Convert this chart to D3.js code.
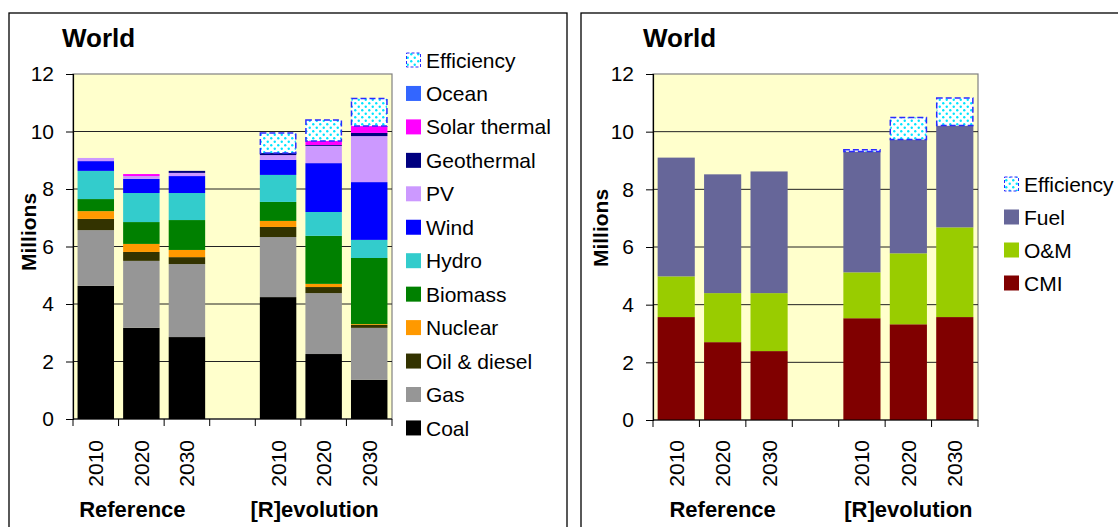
<!DOCTYPE html>
<html><head><meta charset="utf-8">
<script src="https://cdn.jsdelivr.net/npm/d3@7"></script>
<style>
html,body{margin:0;padding:0;background:#fff;}
text{font-family:"Liberation Sans",Arial,sans-serif;}
</style></head>
<body><svg id="c" width="1118" height="527"></svg>
<script>
// ---- data ----
const slots = ["Ref2010","Ref2020","Ref2030","gap","Rev2010","Rev2020","Rev2030"];
const yearLabels = ["2010","2020","2030","","2010","2020","2030"];
const groups = ["Reference","[R]evolution"];
const yTicks = [0,2,4,6,8,10,12];

// left chart (bottom to top)
const leftSeries = ["Coal","Gas","Oil & diesel","Nuclear","Biomass","Hydro","Wind","PV","Geothermal","Solar thermal","Ocean","Efficiency"];
const coal       = [4.63,3.17,2.85,null,4.24,2.26,1.36];
const gas        = [1.94,2.33,2.54,null,2.09,2.12,1.81];
const oil        = [0.39,0.31,0.24,null,0.35,0.21,0.10];
const nuclear    = [0.27,0.28,0.25,null,0.21,0.11,0.03];
const biomass    = [0.42,0.76,1.04,null,0.66,1.67,2.30];
const hydro      = [0.98,1.01,0.94,null,0.94,0.83,0.63];
const wind       = [0.34,0.49,0.59,null,0.52,1.70,2.01];
const pv         = [0.11,0.10,0.11,null,0.17,0.60,1.60];
const geothermal = [0.00,0.00,0.07,null,0.07,0.03,0.11];
const solarTh    = [0.00,0.07,0.00,null,0.00,0.14,0.24];
const ocean      = [0.00,0.00,0.00,null,0.00,0.00,0.00];
const effLeft    = [0.00,0.00,0.00,null,0.70,0.73,0.96];

// right chart (bottom to top)
const rightSeries = ["CMI","O&M","Fuel","Efficiency"];
const cmi     = [3.57,2.70,2.39,null,3.53,3.32,3.57];
const om      = [1.41,1.70,2.01,null,1.59,2.46,3.11];
const fuel    = [4.12,4.12,4.22,null,4.19,3.95,3.53];
const effRight= [0.00,0.00,0.00,null,0.06,0.76,0.96];

const colors = {"Coal":"#000000","Gas":"#969696","Oil & diesel":"#333300","Nuclear":"#FF9900","Biomass":"#008000","Hydro":"#33CCCC","Wind":"#0000FF","PV":"#CC99FF","Geothermal":"#000080","Solar thermal":"#FF00FF","Ocean":"#3366FF","Efficiency":"url(#effpat)","CMI":"#800000","O&M":"#99CC00","Fuel":"#666699"};

const svg = d3.select("#c");
const defs = svg.append("defs");
const pat = defs.append("pattern").attr("id","effpat").attr("patternUnits","userSpaceOnUse").attr("width",7).attr("height",7);
pat.append("rect").attr("width",7).attr("height",7).attr("fill","#fff");
pat.append("circle").attr("cx",1.75).attr("cy",1.75).attr("r",1.2).attr("fill","#00E5FF");
pat.append("circle").attr("cx",5.25).attr("cy",5.25).attr("r",1.2).attr("fill","#00E5FF");

// panel borders
svg.append("rect").attr("x",9).attr("y",13).attr("width",558).attr("height",530).attr("fill","none").attr("stroke","#000").attr("stroke-width",1.3);
svg.append("rect").attr("x",581).attr("y",13).attr("width",560).attr("height",530).attr("fill","none").attr("stroke","#000").attr("stroke-width",1.3);

function drawChart(cfg){
  const g = svg.append("g");
  const x = d3.scaleBand().domain(slots).range([cfg.x0,cfg.x1]).paddingInner(0.2).paddingOuter(0.1);
  const y = d3.scaleLinear().domain([0,12]).range([cfg.yb,cfg.yt]);
  g.append("rect").attr("x",cfg.x0).attr("y",cfg.yt).attr("width",cfg.x1-cfg.x0).attr("height",cfg.yb-cfg.yt)
    .attr("fill","#FFFFCC").attr("stroke","#808080").attr("stroke-width",1.2);
  g.selectAll(".grid").data(yTicks.filter(d=>d>0 && d<12)).join("line")
    .attr("x1",cfg.x0).attr("x2",cfg.x1).attr("y1",d=>y(d)).attr("y2",d=>y(d))
    .attr("stroke","#222").attr("stroke-width",1);
  const rows = slots.map((s,i)=>{const o={slot:s}; cfg.series.forEach((k,j)=>o[k]=cfg.values[j][i]||0); return o;}).filter(d=>d.slot!=="gap");
  const stack = d3.stack().keys(cfg.series)(rows);
  stack.forEach(layer=>{
    const key = layer.key;
    const isEff = key==="Efficiency";
    g.append("g").selectAll("rect").data(layer.filter(d=>d[1]-d[0]>0)).join("rect")
      .attr("x",d=>x(d.data.slot)+(isEff?0.5:0)).attr("width",x.bandwidth()-(isEff?1:0))
      .attr("y",d=>y(d[1])).attr("height",d=>y(d[0])-y(d[1]))
      .attr("fill",colors[key])
      .attr("stroke",isEff?"#2B2BFF":"none").attr("stroke-width",isEff?1.5:0)
      .attr("stroke-dasharray",isEff?"6,3":null);
  });
  const ya = g.append("g").attr("transform",`translate(${cfg.x0},0)`)
    .call(d3.axisLeft(y).tickValues(yTicks).tickSize(7).tickPadding(12).tickFormat(d3.format("d")));
  ya.select(".domain").attr("stroke","#000").attr("stroke-width",1.2);
  ya.selectAll(".tick line").attr("stroke","#000");
  ya.selectAll("text").attr("font-size",21).attr("fill","#000");
  g.append("line").attr("x1",cfg.x0).attr("x2",cfg.x1).attr("y1",cfg.yb).attr("y2",cfg.yb).attr("stroke","#000").attr("stroke-width",1.2);
  const step = x.step();
  g.selectAll(".xt").data(d3.range(slots.length+1)).join("line")
    .attr("x1",i=>cfg.x0+i*step).attr("x2",i=>cfg.x0+i*step).attr("y1",cfg.yb).attr("y2",cfg.yb+7).attr("stroke","#000");
  g.selectAll(".yl").data(slots.map((s,i)=>({s,l:yearLabels[i]})).filter(d=>d.l)).join("text")
    .attr("transform",d=>`translate(${x(d.s)+x.bandwidth()/2+7.5},440) rotate(-90)`)
    .attr("text-anchor","end").attr("font-size",21).text(d=>d.l);
  const gc = [ (x(slots[0])+x(slots[2])+x.bandwidth())/2, (x(slots[4])+x(slots[6])+x.bandwidth())/2 ];
  g.selectAll(".gl").data(groups).join("text")
    .attr("x",(d,i)=>gc[i]+cfg.gOff).attr("y",517).attr("text-anchor","middle")
    .attr("font-size",22).attr("font-weight","bold").text(d=>d);
  g.append("text").attr("transform",`translate(${cfg.mx},${cfg.my}) rotate(-90)`).attr("text-anchor","middle")
    .attr("font-size",21).attr("font-weight","bold").text("Millions");
  g.append("text").attr("x",cfg.tx).attr("y",47).attr("font-size",26).attr("font-weight","bold").text("World");
  const leg = g.append("g");
  cfg.legend.forEach((k,i)=>{
    const cy = cfg.ly0 + i*cfg.lstep;
    const isEff = k==="Efficiency";
    leg.append("rect").attr("x",cfg.lx+(isEff?0.5:0)).attr("y",cy-7.5+(isEff?0.5:0)).attr("width",isEff?14:15).attr("height",isEff?14:15)
      .attr("fill",colors[k]).attr("stroke",isEff?"#2B2BFF":"none").attr("stroke-width",isEff?1:0).attr("stroke-dasharray",isEff?"3,2":null);
    leg.append("text").attr("x",cfg.lx+20).attr("y",cy).attr("dy","0.36em").attr("font-size",21).text(k);
  });
}

drawChart({x0:73,x1:392,yt:74,yb:419,series:leftSeries,
  values:[coal,gas,oil,nuclear,biomass,hydro,wind,pv,geothermal,solarTh,ocean,effLeft],
  legend:leftSeries.slice().reverse(), lx:406, ly0:60, lstep:33.45,
  gOff:-9, mx:36, my:232, tx:62});
drawChart({x0:653,x1:978,yt:74,yb:420,series:rightSeries,
  values:[cmi,om,fuel,effRight],
  legend:rightSeries.slice().reverse(), lx:1004, ly0:184, lstep:33,
  gOff:0, mx:608, my:228, tx:643});
</script></body></html>
